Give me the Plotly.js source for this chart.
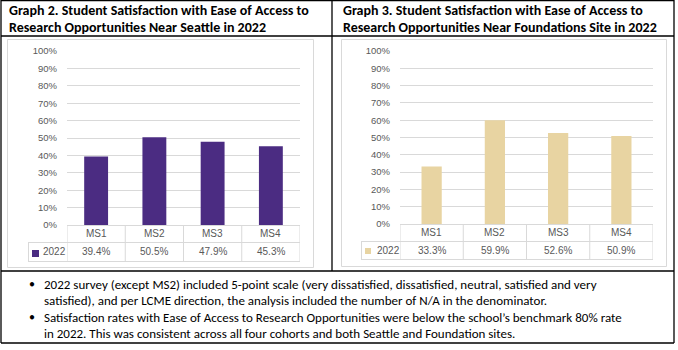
<!DOCTYPE html>
<html><head><meta charset="utf-8">
<script src="https://cdn.plot.ly/plotly-3.0.1.min.js"></script>
<style>html,body{margin:0;padding:0;background:#fff;overflow:hidden}#chart{width:678px;height:350px}</style>
</head><body><div id="chart"></div><script>
const categories = ['MS1', 'MS2', 'MS3', 'MS4'];
const seriesName = '2022';
const seattleValues = [0.394, 0.505, 0.479, 0.453];
const foundationsValues = [0.333, 0.599, 0.526, 0.509];
const seattleLabels = ['39.4%', '50.5%', '47.9%', '45.3%'];
const foundationsLabels = ['33.3%', '59.9%', '52.6%', '50.9%'];
const yTickVals = [0, 0.1, 0.2, 0.3, 0.4, 0.5, 0.6, 0.7, 0.8, 0.9, 1];
const yTickText = ['0%', '10%', '20%', '30%', '40%', '50%', '60%', '70%', '80%', '90%', '100%'];
const titleLeft = ['Graph 2. Student Satisfaction with Ease of Access to', 'Research Opportunities Near Seattle in 2022'];
const titleRight = ['Graph 3. Student Satisfaction with Ease of Access to', 'Research Opportunities Near Foundations Site in 2022'];
const noteLines = [
  ['•', '2022 survey (except MS2) included 5-point scale (very dissatisfied, dissatisfied, neutral, satisfied and very'],
  ['', 'satisfied), and per LCME direction, the analysis included the number of N/A in the denominator.'],
  ['•', 'Satisfaction rates with Ease of Access to Research Opportunities were below the school\u2019s benchmark 80% rate'],
  ['', 'in 2022. This was consistent across all four cohorts and both Seattle and Foundation sites.']
];
const purple = '#4B2C82';
const gold = '#E8D4A2';

const W = 678, H = 350;
const px = v => v / W;
const py = v => 1 - v / H;
const bodyFont = "'Liberation Sans Narrow', Carlito, Lato, sans-serif";
const tickFont = "'Liberation Sans', Arial, sans-serif";
const grid = '#D9D9D9';

// panel geometry (pixels)
const panels = [
  {xa: 'x', ya: 'y', plotL: 67, plotR: 300, top: 51, base: 225, row1: 242, row2: 261, legL: 28,
   frame: [7, 39, 313, 267], sq: [32, 250, 39, 257], legText: 41, titleX: 7,
   values: seattleValues, labels: seattleLabels, color: purple, title: titleLeft, width: 0.41},
  {xa: 'x2', ya: 'y2', plotL: 400, plotR: 653, top: 51, base: 224, row1: 241, row2: 259, legL: 361,
   frame: [341, 39, 666, 266], sq: [365, 248, 371, 254], legText: 375, titleX: 341,
   values: foundationsValues, labels: foundationsLabels, color: gold, title: titleRight, width: 0.32}
];

const traces = [];
const shapes = [];
const annotations = [];
const layout = {
  width: W, height: H, margin: {l: 0, r: 0, t: 0, b: 0},
  paper_bgcolor: '#fff', plot_bgcolor: 'rgba(0,0,0,0)', showlegend: false,
  shapes: shapes, annotations: annotations
};

panels.forEach((p, i) => {
  const sfx = i === 0 ? '' : '2';
  traces.push({
    type: 'bar', x: categories, y: p.values, name: seriesName,
    xaxis: p.xa, yaxis: p.ya, width: p.width,
    marker: {color: p.color, line: {width: 0}}, hoverinfo: 'skip'
  });
  layout['xaxis' + sfx] = {
    domain: [px(p.plotL), px(p.plotR)], type: 'category', range: [-0.5, 3.5],
    showticklabels: false, showgrid: false, zeroline: false, showline: false, ticks: '',
    anchor: 'y' + sfx, fixedrange: true
  };
  layout['yaxis' + sfx] = {
    domain: [py(p.base), py(p.top)], range: [0, 1], tickvals: yTickVals, ticktext: yTickText,
    showgrid: true, gridcolor: grid, gridwidth: 1, zeroline: false, showline: false, ticks: '',
    ticklabelstandoff: 9,
    tickfont: {family: tickFont, size: 9.5, color: '#595959'}, anchor: 'x' + sfx, fixedrange: true
  };
  // chart frame
  shapes.push({type: 'rect', xref: 'paper', yref: 'paper', x0: px(p.frame[0] + 0.5), x1: px(p.frame[2] + 0.5),
    y0: py(p.frame[1] + 0.5), y1: py(p.frame[3] + 0.5), line: {color: grid, width: 1}, layer: 'below'});
  // data table horizontal lines
  [p.base, p.row1, p.row2].forEach((yy, k) => {
    shapes.push({type: 'line', xref: 'paper', yref: 'paper',
      x0: px(k === 0 ? p.plotL : p.legL), x1: px(p.plotR),
      y0: py(yy + 0.5), y1: py(yy + 0.5), line: {color: grid, width: 1}});
  });
  // data table vertical lines at category boundaries
  for (let k = 0; k <= categories.length; k++) {
    shapes.push({type: 'line', xref: p.xa, yref: 'paper', x0: k - 0.5, x1: k - 0.5,
      y0: py(p.base), y1: py(p.row2), line: {color: grid, width: 1}});
  }
  shapes.push({type: 'line', xref: 'paper', yref: 'paper', x0: px(p.legL + 0.5), x1: px(p.legL + 0.5),
    y0: py(p.row1), y1: py(p.row2), line: {color: grid, width: 1}});
  // legend key
  shapes.push({type: 'rect', xref: 'paper', yref: 'paper', x0: px(p.sq[0]), x1: px(p.sq[2]),
    y0: py(p.sq[1]), y1: py(p.sq[3]), fillcolor: p.color, line: {width: 0}});
  annotations.push({xref: 'paper', yref: 'paper', x: px(p.legText), y: py((p.row1 + p.row2) / 2),
    xanchor: 'left', yanchor: 'middle', showarrow: false, text: seriesName,
    font: {family: tickFont, size: 10, color: '#595959'}});
  categories.forEach((c, k) => {
    annotations.push({xref: p.xa, yref: 'paper', x: c, y: py((p.base + p.row1) / 2),
      xanchor: 'center', yanchor: 'middle', showarrow: false, text: c,
      font: {family: tickFont, size: 10, color: '#595959'}});
    annotations.push({xref: p.xa, yref: 'paper', x: c, y: py((p.row1 + p.row2) / 2),
      xanchor: 'center', yanchor: 'middle', showarrow: false, text: p.labels[k],
      font: {family: tickFont, size: 10, color: '#595959'}});
  });
  // titles
  p.title.forEach((t, k) => {
    annotations.push({xref: 'paper', yref: 'paper', x: px(p.titleX), y: py(10 + k * 17),
      xanchor: 'left', yanchor: 'middle', showarrow: false, text: '<b>' + t + '</b>',
      font: {family: bodyFont, size: 14, color: '#000'}});
  });
});

// notes
noteLines.forEach((ln, k) => {
  const yy = 284 + k * 16.5;
  if (ln[0]) annotations.push({xref: 'paper', yref: 'paper', x: px(32), y: py(yy), xanchor: 'center', yanchor: 'middle',
    showarrow: false, text: ln[0], font: {family: bodyFont, size: 12, color: '#000'}});
  annotations.push({xref: 'paper', yref: 'paper', x: px(42), y: py(yy), xanchor: 'left', yanchor: 'middle',
    showarrow: false, text: ln[1], font: {family: bodyFont, size: 13, color: '#000'}});
});

// black table lines
const blk = (x0, y0, x1, y1) => shapes.push({type: 'line', xref: 'paper', yref: 'paper',
  x0: px(x0), x1: px(x1), y0: py(y0), y1: py(y1), line: {color: '#000', width: 1.3}});
blk(1, 0.5, 674, 0.5);
blk(1, 0, 1, 343);
blk(674, 0, 674, 343);
blk(1, 343, 674, 343);
blk(1, 36, 674, 36);
blk(1, 271, 674, 271);
blk(332, 0, 332, 271);

Plotly.newPlot('chart', traces, layout, {staticPlot: true, displayModeBar: false});
</script></body></html>
